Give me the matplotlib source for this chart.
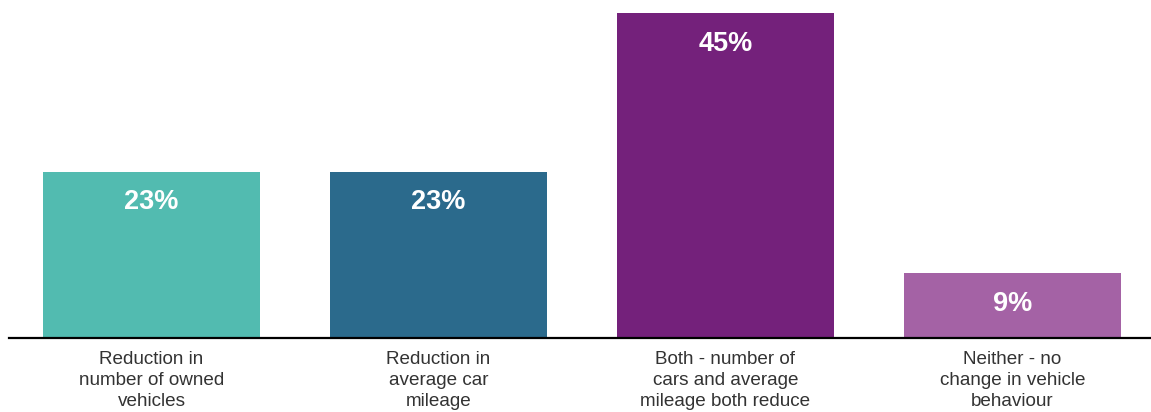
import matplotlib.pyplot as plt

plt.rcParams['font.family'] = ['Liberation Sans', 'DejaVu Sans']

categories = [
    "Reduction in\nnumber of owned\nvehicles",
    "Reduction in\naverage car\nmileage",
    "Both - number of\ncars and average\nmileage both reduce",
    "Neither - no\nchange in vehicle\nbehaviour",
]
values = [23, 23, 45, 9]
colors = ['#52BBB0', '#2B6A8C', '#74217B', '#A462A5']

fig = plt.figure(figsize=(11.51, 4.12), dpi=100)
ax = fig.add_axes([9 / 1151, 74 / 412, 1 - 9 / 1151, 325 / 412])

x = range(len(values))
bars = ax.bar(x, values, width=0.756, color=colors)

ax.set_xlim(-0.4965, 3.4826)
ax.set_ylim(0, 45)

# value labels inside bars
for b, v in zip(bars, values):
    ax.annotate(f"{v}%", (b.get_x() + b.get_width() / 2, v),
                xytext=(0, -22), textcoords='offset points',
                ha='center', va='center', color='white',
                fontsize=19.5, fontweight='bold')

ax.set_xticks(list(x))
ax.set_xticklabels(categories, fontsize=13.6, color='#333333', linespacing=1.33)
ax.tick_params(axis='x', length=0, pad=9)
ax.set_yticks([])

for s in ['top', 'right', 'left']:
    ax.spines[s].set_visible(False)
ax.spines['bottom'].set_linewidth(1.6)
ax.spines['bottom'].set_color('black')

fig.savefig('out.png', dpi=100, facecolor='white')
